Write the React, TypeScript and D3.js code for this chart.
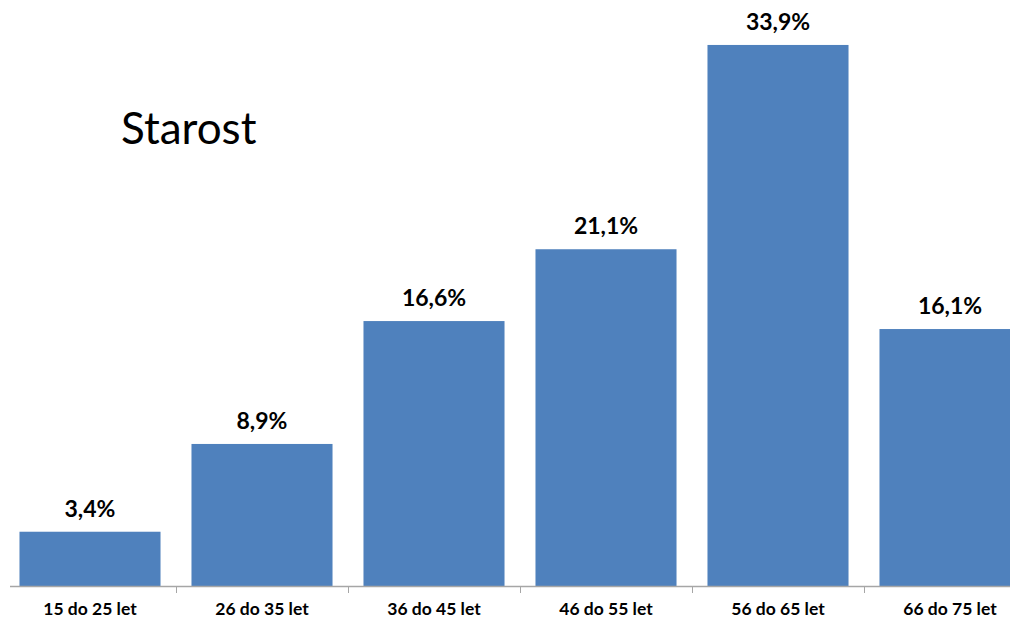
import React from "react";
import * as d3 from "d3";

const categories = ["15 do 25 let", "26 do 35 let", "36 do 45 let", "46 do 55 let", "56 do 65 let", "66 do 75 let"];
const values = [3.4, 8.9, 16.6, 21.1, 33.9, 16.1];
const valueLabels = ["3,4%", "8,9%", "16,6%", "21,1%", "33,9%", "16,1%"];
const title = "Starost";

export default function App() {
  const W = 1010, H = 619;
  const x = d3.scaleBand<string>().domain(categories).range([4, 1036]).paddingInner(0.18).paddingOuter(0.09);
  const y = d3.scaleLinear().domain([0, 35]).range([586, 27.4]);
  const base = y(0);
  const ticks = categories.slice(1).map((c) => x(c)! - (x.step() * x.paddingInner()) / 2);
  const font = "Lato, 'Open Sans', sans-serif";
  return (
    <svg width={W} height={H} style={{ position: "absolute", left: 0, top: 0 }}>
      <rect width={W} height={H} fill="#fff" />
      {categories.map((c, i) => (
        <rect key={c} x={x(c)} y={y(values[i])} width={x.bandwidth()} height={base - y(values[i])} fill="#4F81BD" />
      ))}
      <line x1={10} x2={W} y1={base + 0.5} y2={base + 0.5} stroke="#A6A6A6" strokeWidth={1.5} />
      {ticks.map((t, i) => (
        <line key={i} x1={Math.round(t) + 0.5} x2={Math.round(t) + 0.5} y1={base} y2={base + 7} stroke="#A6A6A6" strokeWidth={1} />
      ))}
      {categories.map((c, i) => (
        <text key={"v" + c} x={x(c)! + x.bandwidth() / 2} y={y(values[i]) - 15} textAnchor="middle" fontFamily={font} fontWeight="bold" fontSize={23} fill="#000">
          {valueLabels[i]}
        </text>
      ))}
      {categories.map((c) => (
        <text key={"c" + c} x={x(c)! + x.bandwidth() / 2} y={615} textAnchor="middle" fontFamily={font} fontWeight="bold" fontSize={17.5} fill="#000">
          {c}
        </text>
      ))}
      <text x={121} y={144} fontFamily={font} fontSize={44} fill="#000">{title}</text>
    </svg>
  );
}
